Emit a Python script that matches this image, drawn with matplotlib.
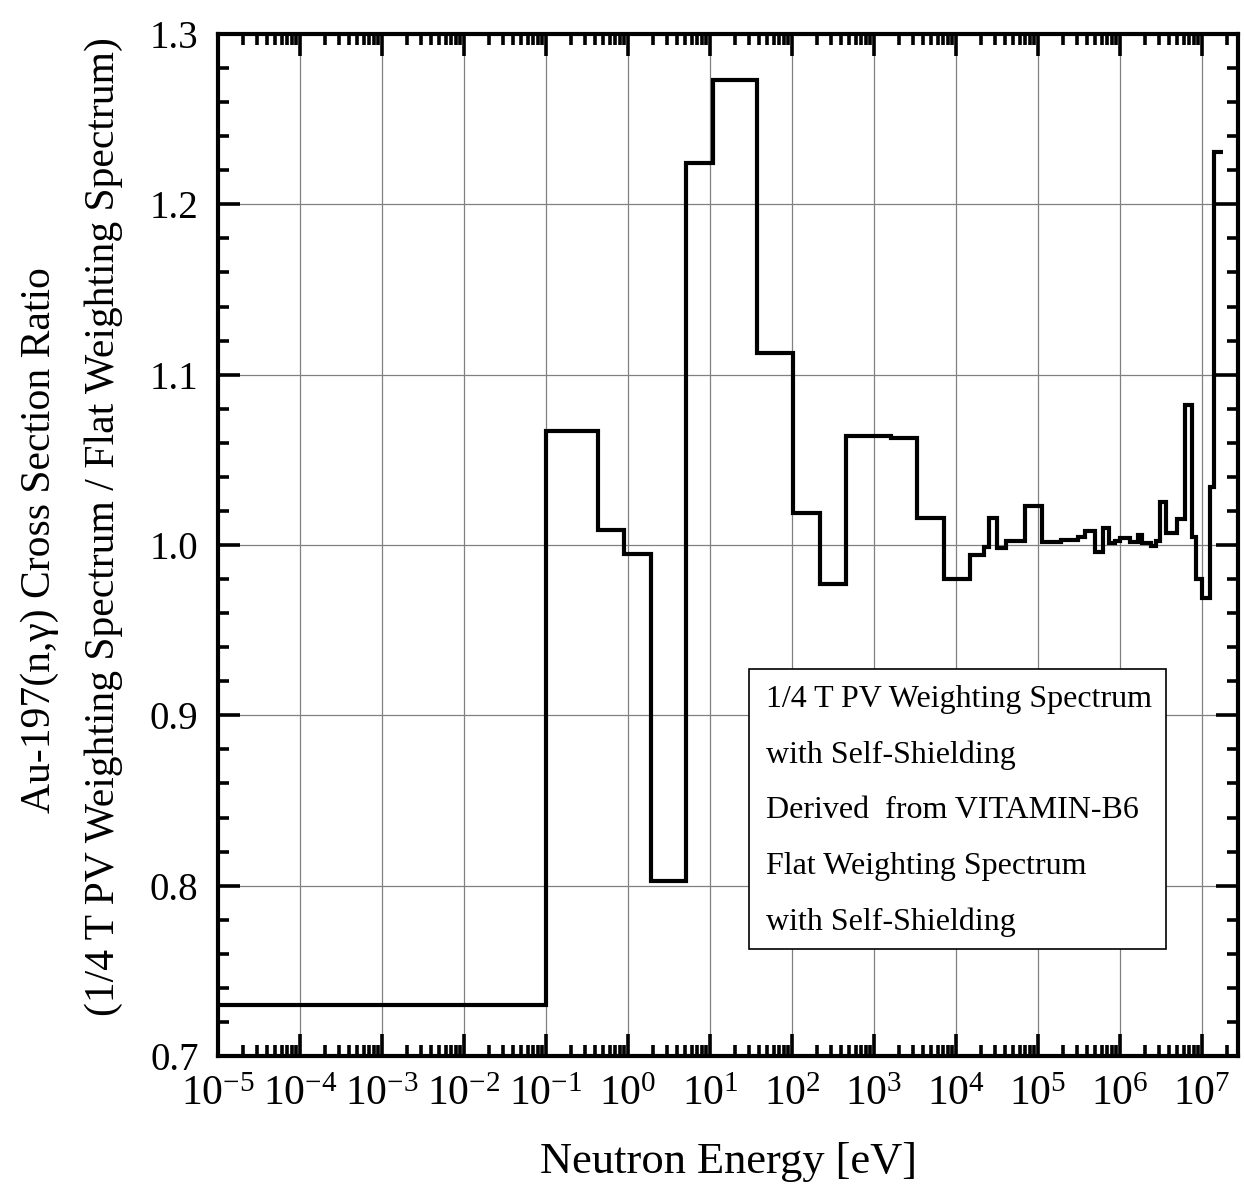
import matplotlib
matplotlib.use("Agg")
import matplotlib.pyplot as plt
from matplotlib.ticker import LogLocator, MultipleLocator, NullFormatter, FormatStrFormatter
from matplotlib.patches import Rectangle

plt.rcParams['font.family'] = ['Liberation Serif', 'DejaVu Serif']
plt.rcParams['mathtext.fontset'] = 'custom'
plt.rcParams['mathtext.rm'] = 'Liberation Serif'
plt.rcParams['mathtext.it'] = 'Liberation Serif:italic'
plt.rcParams['axes.unicode_minus'] = False

# group boundaries [eV] and cross section ratio per group
energy_edges = [1e-5, 0.1, 0.43, 0.90, 1.9, 5.07, 10.9, 37.5, 103, 218, 461,
                1.6e3, 3.35e3, 7.14e3, 1.5e4, 2.2e4, 2.53e4, 3.2e4, 4.12e4, 6.9e4,
                1.13e5, 1.93e5, 3.08e5, 3.74e5, 4.9e5, 6.2e5, 7.35e5, 8.6e5, 9.9e5,
                1.34e6, 1.66e6, 1.87e6, 2.41e6, 2.77e6, 3.04e6, 3.67e6, 4.94e6,
                6.14e6, 7.53e6, 8.36e6, 1.01e7, 1.24e7, 1.39e7, 1.78e7]
ratio = [0.730, 1.067, 1.009, 0.995, 0.803, 1.224, 1.273, 1.113, 1.019, 0.977,
         1.064, 1.063, 1.016, 0.980, 0.994, 0.999, 1.016, 0.998, 1.0025, 1.023,
         1.002, 1.003, 1.0047, 1.008, 0.996, 1.010, 1.001, 1.0025, 1.004,
         1.002, 1.006, 1.001, 0.9996, 1.0025, 1.025, 1.007, 1.015,
         1.082, 1.0045, 0.980, 0.969, 1.034, 1.231]

legend_lines = ["1/4 T PV Weighting Spectrum", "with Self-Shielding",
                "Derived  from VITAMIN-B6", "Flat Weighting Spectrum",
                "with Self-Shielding"]

W, H = 1244, 1195
fig = plt.figure(figsize=(W / 100, H / 100), dpi=100)
ax = fig.add_axes([218 / W, 1 - 1056 / H, (1238 - 218) / W, (1056 - 34) / H])

ax.stairs(ratio, energy_edges, baseline=None, color='black', linewidth=3.0, joinstyle='miter')

ax.set_xscale('log')
ax.set_xlim(1e-5, 2.75e7)
ax.set_ylim(0.7, 1.3)

ax.xaxis.set_major_locator(LogLocator(base=10, numticks=20))
ax.xaxis.set_minor_locator(LogLocator(base=10, subs=range(2, 10), numticks=200))
ax.xaxis.set_minor_formatter(NullFormatter())
ax.yaxis.set_major_locator(MultipleLocator(0.1))
ax.yaxis.set_minor_locator(MultipleLocator(0.02))
ax.yaxis.set_major_formatter(FormatStrFormatter('%.1f'))

ax.tick_params(which='both', direction='in', top=True, right=True, width=2.6)
ax.tick_params(which='major', length=16, pad=14)
ax.tick_params(which='minor', length=8)
ax.tick_params(axis='x', which='major', labelsize=30, pad=14)
ax.tick_params(axis='y', which='major', labelsize=28)
for s in ax.spines.values():
    s.set_linewidth(3.0)

ax.grid(True, which='major', color='#808080', linewidth=0.9)
ax.set_axisbelow(True)

ax.set_xlabel('Neutron Energy [eV]', fontsize=32, labelpad=20)
fig.text(40 / W, 1 - 540 / H, 'Au-197(n,\u03b3) Cross Section Ratio', rotation=90,
         fontsize=30, ha='center', va='center')
fig.text(104 / W, 1 - 527 / H, '(1/4 T PV Weighting Spectrum / Flat Weighting Spectrum)',
         rotation=90, fontsize=30, ha='center', va='center')

# text box in the lower right
fig.patches.append(Rectangle((749 / W, 1 - 949 / H), (1166 - 749) / W, (949 - 669) / H,
                             transform=fig.transFigure, facecolor='white',
                             edgecolor='black', linewidth=1.2, zorder=5))
for i, line in enumerate(legend_lines):
    fig.text(766 / W, 1 - (700 + 55.5 * i) / H, line, fontsize=23,
             ha='left', va='center', zorder=6)

fig.savefig('out.png', dpi=100, facecolor='white')
